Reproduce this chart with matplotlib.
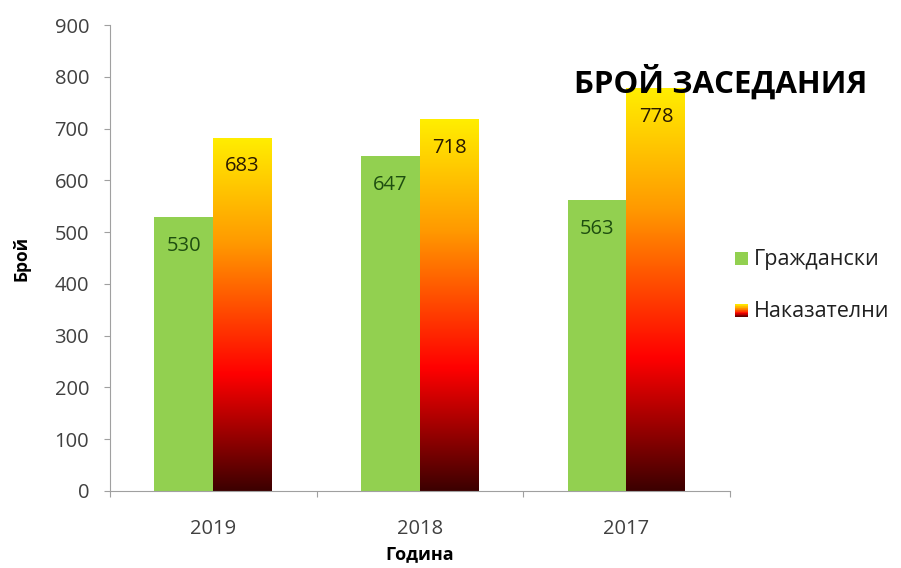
import numpy as np
import matplotlib
matplotlib.use("Agg")
import matplotlib.pyplot as plt
from matplotlib.colors import LinearSegmentedColormap
from matplotlib.patches import Rectangle
from matplotlib.legend_handler import HandlerBase

plt.rcParams['font.family'] = ['Open Sans', 'DejaVu Sans']

years = ['2019', '2018', '2017']
civil = [530, 647, 563]
criminal = [683, 718, 778]
series_names = ['Граждански', 'Наказателни']
title = 'БРОЙ ЗАСЕДАНИЯ'
ylabel = 'Брой'
xlabel = 'Година'
yticks = [0, 100, 200, 300, 400, 500, 600, 700, 800, 900]

green = '#92D050'
grad = LinearSegmentedColormap.from_list(
    'grad', [(0.0, '#3C0000'), (0.33, '#FF0000'), (0.7, '#FF9900'), (1.0, '#FFEE00')])

fig = plt.figure(figsize=(9.01, 5.68), dpi=100)
ax = fig.add_axes([0.122, 0.1356, 0.688, 0.82])

x = np.arange(len(years))
w = 0.285
gbars = ax.bar(x - w / 2, civil, w, color=green, zorder=2)
obars = ax.bar(x + w / 2, criminal, w, color='none', zorder=2)
grad_img = np.linspace(0, 1, 256).reshape(-1, 1)
for b in obars:
    x0, y0 = b.get_x(), b.get_y()
    bw, bh = b.get_width(), b.get_height()
    im = ax.imshow(grad_img, cmap=grad, origin='lower', aspect='auto',
                   extent=[x0, x0 + bw, y0, y0 + bh], zorder=2, interpolation='bicubic')
    im.set_clip_path(b)

for b, v in zip(gbars, civil):
    ax.text(b.get_x() + b.get_width() / 2, v - 56, str(v), ha='center', va='center',
            fontsize=14.5, color='#1E4E10', zorder=3)
for b, v in zip(obars, criminal):
    ax.text(b.get_x() + b.get_width() / 2, v - 56, str(v), ha='center', va='center',
            fontsize=14.5, color='#2A1A00', zorder=3)

ax.set_xlim(-0.5, len(years) - 0.5)
ax.set_ylim(0, 900)
ax.set_yticks(yticks)
ax.set_yticklabels([str(t) for t in yticks], fontsize=14.5, color='#404040')
ax.set_xticks(np.arange(-0.5, len(years), 1.0))
ax.set_xticklabels([])
ax.set_xticks(x, minor=True)
ax.set_xticklabels(years, minor=True, fontsize=14.5, color='#404040')
ax.tick_params(axis='x', which='minor', length=0, pad=20)
ax.tick_params(axis='x', which='major', length=4, color='#A0A0A0', direction='out')
ax.tick_params(axis='y', length=4, color='#A0A0A0', direction='out', pad=11)
for s in ['top', 'right']:
    ax.spines[s].set_visible(False)
for s in ['left', 'bottom']:
    ax.spines[s].set_color('#A0A0A0')
ax.set_ylabel(ylabel, fontsize=12.5, fontweight='bold')
ax.yaxis.set_label_coords(-0.128, 0.5)
ax.set_xlabel(xlabel, fontsize=13, fontweight='bold')
ax.xaxis.set_label_coords(0.5, -0.117)

fig.text(0.637, 0.855, title, fontsize=22.5, fontweight='bold', color='black', ha='left', va='center')


class GradHandler(HandlerBase):
    def create_artists(self, legend, orig_handle, xdescent, ydescent, width, height, fontsize, trans):
        n = 20
        side = height * 0.85
        x0 = xdescent + width - side
        arts = []
        for i in range(n):
            r = Rectangle((x0, -ydescent + side * i / n), side, side / n + 0.2,
                          facecolor=grad((i + 0.5) / n), edgecolor='none', transform=trans)
            arts.append(r)
        return arts


class SqHandler(HandlerBase):
    def create_artists(self, legend, orig_handle, xdescent, ydescent, width, height, fontsize, trans):
        side = height * 0.85
        return [Rectangle((xdescent + width - side, -ydescent), side, side,
                          facecolor=green, edgecolor='none', transform=trans)]


h1 = Rectangle((0, 0), 1, 1)
h2 = Rectangle((0, 0), 1, 1)
fig.legend([h1, h2], series_names, handler_map={h1: SqHandler(), h2: GradHandler()},
           loc='center left', bbox_to_anchor=(0.81, 0.497), frameon=False, fontsize=15.5,
           labelspacing=1.45, handlelength=0.65, handletextpad=0.25, labelcolor='#202020',
           borderpad=0.2, borderaxespad=0.0)

fig.savefig('out.png', dpi=100)
